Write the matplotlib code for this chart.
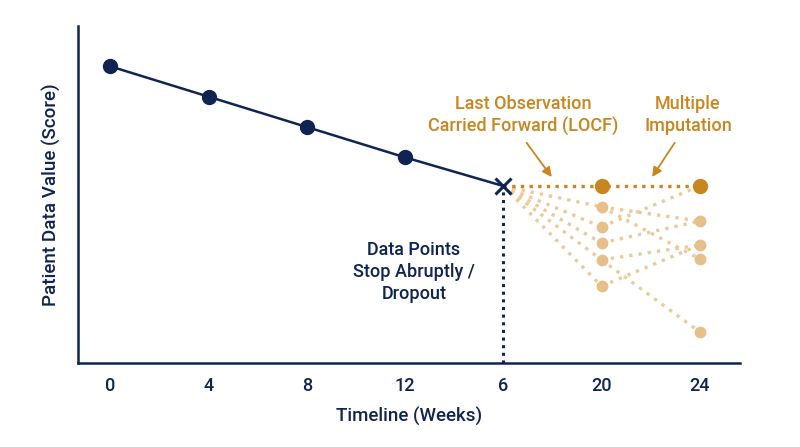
import matplotlib
matplotlib.use("Agg")
import matplotlib.pyplot as plt

plt.rcParams['font.family'] = ['Roboto', 'DejaVu Sans']
plt.rcParams['font.weight'] = 'medium'
plt.rcParams['axes.labelweight'] = 'medium'

# Daten
week_labels = ['0', '4', '8', '12', '6', '20', '24']
observed_x = [0, 1, 2, 3, 4]
observed_y = [88, 79, 70, 61, 52.5]
dropout_x = 4
dropout_y = 52.5

locf_x = [4, 5, 6]
locf_y = [52.5, 52.5, 52.5]

imp_mid = [46.3, 40.4, 35.6, 30.6, 22.8]     # week 20
imp_end = [42.1, 35.0, 30.9, 9.2]            # week 24
# verbindingen week 20 -> week 24 (waarde, waarde)
imp_links = [(46.3, 42.1), (46.3, 30.9), (40.4, 52.5), (35.6, 42.1),
             (30.6, 35.0), (30.6, 9.2), (22.8, 35.0)]

navy = '#0f2452'
gold = '#c8861f'
light = '#ebcb9c'

fig = plt.figure(figsize=(8, 4.47), dpi=100)
ax = fig.add_axes([0.0975, 0.188, 0.8275, 0.754])

# meervoudige imputatie
for v in imp_mid:
    ax.plot([dropout_x, 5], [dropout_y, v], ls=(0, (1, 1.8)), lw=2.4, color=light, zorder=1)
for a, b in imp_links:
    ax.plot([5, 6], [a, b], ls=(0, (1, 1.8)), lw=2.4, color=light, zorder=1)
ax.plot([5] * len(imp_mid), imp_mid, 'o', ms=7.5, color='#e6c08a', zorder=2)
ax.plot([6] * len(imp_end), imp_end, 'o', ms=7.5, color='#e6c08a', zorder=2)

# LOCF
ax.plot(locf_x, locf_y, ls=(0, (1, 1.6)), lw=2.4, color=gold, zorder=3)
ax.plot(locf_x[1:], locf_y[1:], 'o', ms=10, color=gold, zorder=4)

# waargenomen data
ax.plot(observed_x + [dropout_x], observed_y + [dropout_y], '-', lw=1.8, color=navy, zorder=5)
ax.plot(observed_x[:-1], observed_y[:-1], 'o', ms=10, color=navy, zorder=6)
ax.plot(dropout_x, dropout_y, 'x', ms=12, mew=2.2, color=navy, zorder=6)
ax.plot([dropout_x, dropout_x], [0, dropout_y], ls=(0, (1, 1.5)), lw=2.2, color=navy, zorder=4)

ax.set_xlim(-0.33, 6.41)
ax.set_ylim(0, 100)
ax.set_xticks(range(len(week_labels)))
ax.set_xticklabels(week_labels)
ax.set_yticks([])
ax.tick_params(axis='x', length=0, pad=10, labelsize=13, labelcolor=navy)
for s in ['top', 'right']:
    ax.spines[s].set_visible(False)
for s in ['left', 'bottom']:
    ax.spines[s].set_color(navy)
    ax.spines[s].set_linewidth(1.8)

ax.set_xlabel('Timeline (Weeks)', fontsize=13.5, color=navy, labelpad=9)
ax.set_ylabel('Patient Data Value (Score)', fontsize=13.5, color=navy, labelpad=12)

ax.text(3.09, 27, 'Data Points\nStop Abruptly /\nDropout', ha='center', va='center',
        fontsize=13, color=navy, linespacing=1.3)
ax.text(4.2, 73.5, 'Last Observation\nCarried Forward (LOCF)', ha='center', va='center',
        fontsize=13, color=gold, linespacing=1.3)
ax.text(5.88, 73.5, 'Multiple\nImputation', ha='center', va='center',
        fontsize=13, color=gold, linespacing=1.3)

ax.annotate('', xy=(4.51, 54.5), xytext=(4.22, 66.0),
            arrowprops=dict(arrowstyle='-|>', color=gold, lw=1.3, mutation_scale=14))
ax.annotate('', xy=(5.5, 54.5), xytext=(5.76, 66.0),
            arrowprops=dict(arrowstyle='-|>', color=gold, lw=1.3, mutation_scale=14))

fig.savefig('out.png', dpi=100)
